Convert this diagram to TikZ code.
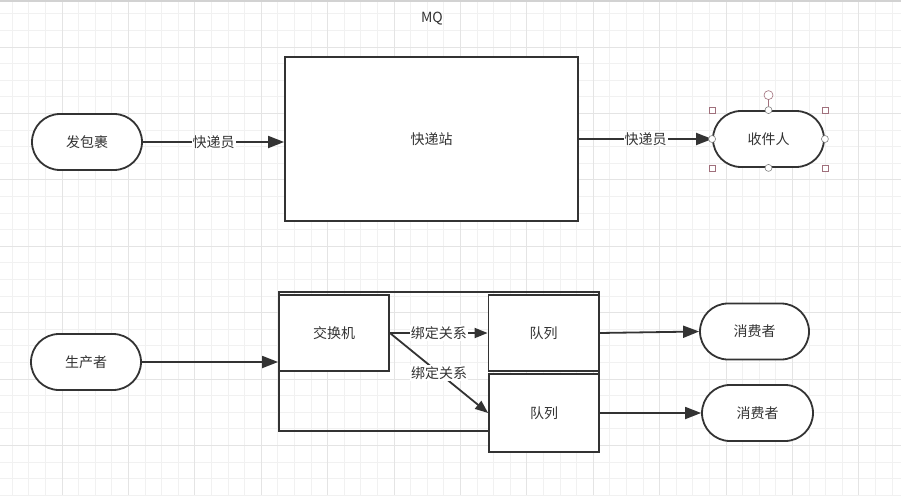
\documentclass[tikz,border=0pt]{standalone}
\usepackage{fontspec}
\setmainfont{Noto Sans CJK SC}
\usetikzlibrary{arrows.meta, calc}
\definecolor{ink}{HTML}{333333}
\definecolor{gridminor}{HTML}{F1F1F1}
\definecolor{gridmajor}{HTML}{E4E4E4}
\definecolor{handle}{HTML}{A0707C}
\tikzset{
  pill/.style={draw=ink, line width=1.8pt, rounded corners=28pt, fill=white,
    minimum width=110pt, minimum height=56pt, text=ink, font=\fontsize{14}{16}\selectfont},
  box/.style={draw=ink, line width=1.8pt, fill=white, text=ink,
    font=\fontsize{14}{16}\selectfont},
  flow/.style={draw=ink, line width=1.8pt, -{Triangle[length=16pt,width=12pt]}},
  bind/.style={draw=ink, line width=1.8pt, -{Triangle[length=13pt,width=10pt]}},
  lbl/.style={fill=white, text=ink, inner sep=1pt, font=\fontsize{14}{16}\selectfont},
}

\begin{document}
\begin{tikzpicture}[x=1pt, y=-1pt]
        \useasboundingbox (0,0) rectangle (901,495);
        \fill[white] (0,0) rectangle (901,495);

        % Grid paper
        \foreach \i in {-3,...,50} {
            \draw[gridminor, line width=0.8pt] ({62+16.6*\i},0) -- ({62+16.6*\i},495);
        }
        \foreach \i in {-2,...,27} {
            \draw[gridminor, line width=0.8pt] (0,{47+16.6*\i}) -- (901,{47+16.6*\i});
        }
        \foreach \i in {0,...,12} {
            \draw[gridmajor, line width=0.8pt] ({62+66.4*\i},0) -- ({62+66.4*\i},495);
        }
        \foreach \i in {0,...,6} {
            \draw[gridmajor, line width=0.8pt] (0,{47+66.4*\i}) -- (901,{47+66.4*\i});
        }
        \draw[gray!35, line width=1.5pt] (0,1) -- (901,1);

        \node[text=ink, font=\fontsize{14}{16}\selectfont] (title) at (432,19) {MQ};

        % Parcel example
        \node[pill] (pkg) at (87,142) {发包裹};
        \node[box, minimum width=293pt, minimum height=164pt] (station) at (431.5,139) {快递站};
        \node[pill, minimum width=111pt] (recv) at (768.5,139) {收件人};

        \draw[flow] (pkg.east) -- node[lbl] {快递员} (pkg.east -| station.west);
        \draw[flow] (station.east) -- node[lbl] {快递员} (recv.west);

        % Selection handles
        \draw[handle, line width=0.6pt] (recv.north) -- ++(0,-15);
        \draw[handle, line width=0.6pt, fill=white] ($(recv.north)+(0,-15)$) circle (4.5);
        \foreach \c in {north west, north east, south west, south east} {
            \draw[handle, line width=0.6pt, fill=white] ($(recv.\c)+(-3,-3)$) rectangle ++(6,6);
        }
        \foreach \c in {north, south, east, west} {
            \draw[gray, line width=0.6pt, fill=white] (recv.\c) circle (3.5);
        }

        % Exchange and queues
        \node[box, fill=none, minimum width=320pt, minimum height=139pt] (broker) at (439,361.5) {};
        \node[box, minimum width=110pt, minimum height=76pt] (exch) at (334,333) {交换机};
        \node[box, minimum width=110pt, minimum height=76pt] (q1) at (543.5,333) {队列};
        \node[box, minimum width=110pt, minimum height=78pt] (q2) at (544,413) {队列};

        \node[pill] (producer) at (86,362) {生产者};
        \node[pill, minimum width=109pt] (cons1) at (754.5,331.5) {消费者};
        \node[pill, minimum width=111pt] (cons2) at (757.5,413) {消费者};

        \draw[flow] (producer.east) -- (producer.east -| exch.west);
        \draw[bind] (exch.east) -- node[lbl] {绑定关系} (q1.west);
        \draw[bind] (exch.east) -- node[lbl] {绑定关系} (q2.west);
        \draw[flow] (q1.east) -- (cons1.west);
        \draw[flow] (q2.east) -- (cons2.west);
    \end{tikzpicture}
\end{document}
